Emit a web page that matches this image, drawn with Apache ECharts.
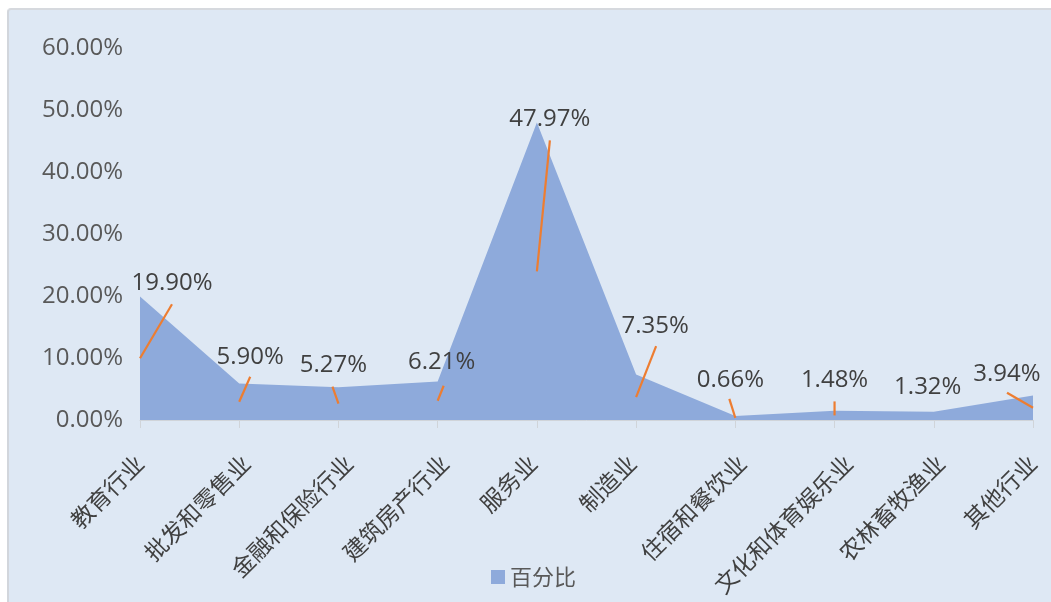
<!DOCTYPE html>
<html>
<head>
<meta charset="utf-8">
<script src="https://cdn.jsdelivr.net/npm/echarts@6/dist/echarts.min.js"></script>
<style>
html,body{margin:0;padding:0;background:#ffffff;width:1051px;height:602px;overflow:hidden;}
#bg{position:absolute;left:7px;top:8px;right:0;bottom:0;background:#dee8f4;border-left:2px solid #d2d6dc;border-top:2px solid #d6d9de;border-top-left-radius:4px;}
#chart{position:absolute;left:0;top:0;width:1051px;height:602px;}
</style>
</head>
<body>
<div id="bg"></div>
<div id="chart"></div>
<script>
const categories = ['教育行业','批发和零售业','金融和保险行业','建筑房产行业','服务业','制造业','住宿和餐饮业','文化和体育娱乐业','农林畜牧渔业','其他行业'];
const values = [19.90, 5.90, 5.27, 6.21, 47.97, 7.35, 0.66, 1.48, 1.32, 3.94];
const seriesName = '百分比';
const yTicks = [0, 10, 20, 30, 40, 50, 60];

// label layout (pixel offsets from the middle of each area column)
const textOffsets = [[32,-75],[11,-45],[-5,-39],[4,-39],[13,-152],[19,-71],[-5,-38],[0,-35],[-6,-29],[-26,-34]];
const leaderOffsets = [[32,-54],[11,-25],[-6,-17],[6,-15],[13,-131],[20,-51],[-6,-19],[0,-14],null,[-26,-15]];

const numFont = '"Open Sans", "Noto Sans", sans-serif';
const cjkFont = '"Noto Sans CJK SC", sans-serif';
const catFontSize = 23;

// rotated category labels: Excel-like horizontal shift that grows with label length
const rich = {};
categories.forEach((c, i) => {
  const n = c.length;
  const L = n * catFontSize;
  const s = 1 + 3.6 * (n - 3);
  const k = (s - 5) / Math.SQRT2;
  rich['c' + i] = {
    fontFamily: cjkFont, fontSize: catFontSize, color: '#404040',
    padding: [Math.max(0, 2 * k), Math.max(0, L - 2 * k), Math.max(0, -2 * k), 0]
  };
});

const chart = echarts.init(document.getElementById('chart'));
chart.setOption({
  backgroundColor: 'transparent',
  animation: false,
  grid: {left: 140, right: 18, top: 48, bottom: 182, containLabel: false, outerBoundsMode: 'none'},
  legend: {
    data: [{name: seriesName, icon: 'rect'}],
    bottom: 9,
    left: 486,
    itemWidth: 14,
    itemHeight: 14,
    itemGap: 11,
    textStyle: {fontFamily: cjkFont, fontSize: 22, color: '#595959'}
  },
  xAxis: {
    type: 'category',
    data: categories,
    boundaryGap: false,
    axisLine: {lineStyle: {color: '#d0d4d9', width: 1}},
    axisTick: {show: true, alignWithLabel: true, length: 8, lineStyle: {color: '#d0d4d9'}},
    axisLabel: {
      rotate: 45, interval: 0, margin: 39, align: 'center', verticalAlign: 'middle',
      fontFamily: cjkFont, fontSize: catFontSize, color: '#404040',
      formatter: (v, i) => '{c' + i + '|' + v + '}',
      rich: rich
    }
  },
  yAxis: {
    type: 'value',
    min: yTicks[0],
    max: yTicks[yTicks.length - 1],
    interval: 10,
    axisLine: {show: false},
    axisTick: {show: false},
    splitLine: {show: false},
    axisLabel: {margin: 17, fontFamily: numFont, fontSize: 24, color: '#595959', formatter: v => v.toFixed(2) + '%'}
  },
  series: [
    {
      name: seriesName,
      type: 'line',
      data: values,
      symbol: 'none',
      lineStyle: {width: 0, color: '#8eaadb'},
      itemStyle: {color: '#8eaadb'},
      areaStyle: {color: '#8eaadb', opacity: 1}
    },
    {
      type: 'custom',
      silent: true,
      z: 5,
      clip: false,
      data: values.map((v, i) => [i, v]),
      encode: {x: 0, y: 1},
      renderItem: function (params, api) {
        const i = api.value(0);
        const v = api.value(1);
        const mid = api.coord([i, v / 2]);
        const children = [];
        const lo = leaderOffsets[i];
        if (lo) {
          children.push({
            type: 'line',
            shape: {x1: mid[0], y1: mid[1], x2: mid[0] + lo[0], y2: mid[1] + lo[1]},
            style: {stroke: '#ed7d31', lineWidth: 2.2}
          });
        }
        const to = textOffsets[i];
        children.push({
          type: 'text',
          style: {
            x: mid[0] + to[0], y: mid[1] + to[1],
            text: v.toFixed(2) + '%',
            align: 'center', verticalAlign: 'middle',
            font: '24px ' + numFont,
            fill: '#404040'
          }
        });
        return {type: 'group', children: children};
      }
    }
  ]
});
</script>
</body>
</html>
